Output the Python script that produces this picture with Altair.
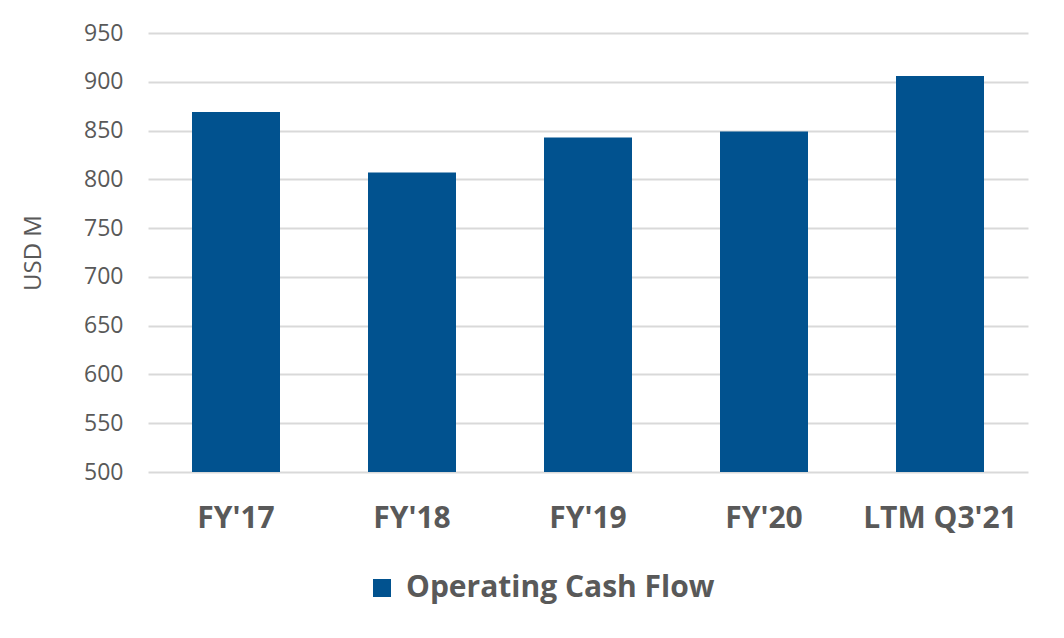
import altair as alt
import pandas as pd

categories = ["FY'17", "FY'18", "FY'19", "FY'20", "LTM Q3'21"]
values = [869, 807, 843, 849, 906]
series = ["Operating Cash Flow"] * 5

df = pd.DataFrame({"cat": categories, "val": values, "series": series})

FONT = "Open Sans"
GRAY = "#595959"

chart = alt.Chart(df).mark_bar(color="#01528F", clip=True).encode(
    x=alt.X("cat:N", sort=categories, title=None,
            scale=alt.Scale(paddingInner=0.5, paddingOuter=0.25),
            axis=alt.Axis(labelAngle=0, labelFont=FONT, labelFontSize=30,
                          labelFontWeight="bold", labelColor=GRAY,
                          labelPadding=31, ticks=False, domain=False, grid=False)),
    y=alt.Y("val:Q", title="USD M",
            scale=alt.Scale(domain=[500, 950], nice=False, zero=False),
            axis=alt.Axis(values=list(range(500, 951, 50)), labelFont=FONT,
                          labelFontSize=23, labelColor=GRAY, labelPadding=25,
                          ticks=False, domain=False, gridColor="#D9D9D9",
                          gridWidth=2, titleFont=FONT, titleFontSize=24,
                          titleFontWeight="normal", titleColor=GRAY,
                          titlePadding=38)),
    color=alt.Color("series:N", title=None,
                    scale=alt.Scale(range=["#01528F"]),
                    legend=alt.Legend(orient="none", legendX=219, legendY=540,
                                      symbolType="square", symbolSize=324,
                                      labelFont=FONT, labelFontSize=30,
                                      labelFontWeight="bold", labelColor=GRAY,
                                      labelOffset=9, labelLimit=600)),
).properties(
    width=880, height=439,
    padding={"left": 140, "top": 25, "right": 28, "bottom": 158},
    autosize=alt.AutoSizeParams(type="none"),
).configure(background="white").configure_view(stroke=None)

chart.save("out.html", embed_options={"renderer": "svg", "actions": False})
